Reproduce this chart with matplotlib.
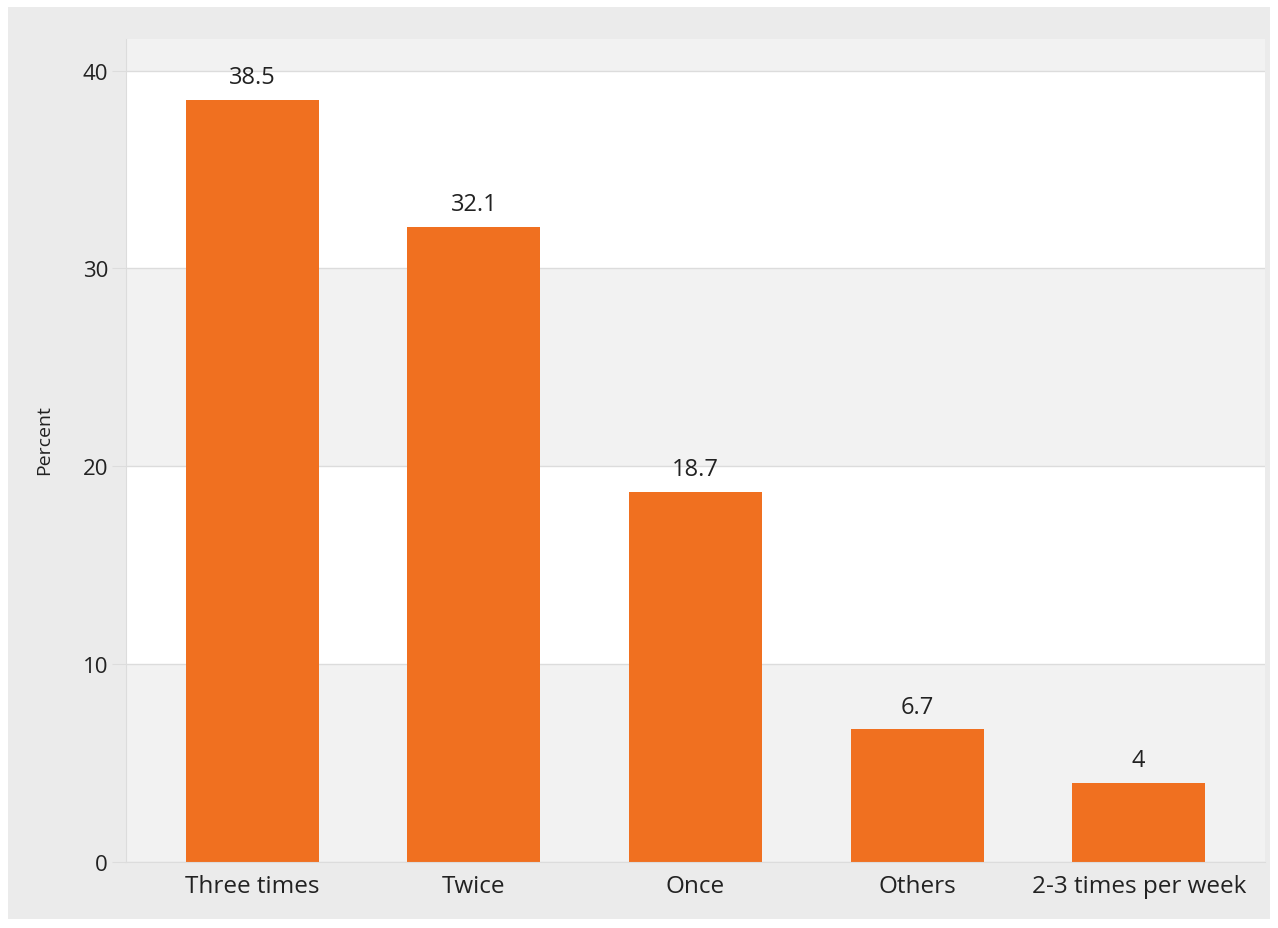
import matplotlib
matplotlib.use("Agg")
import matplotlib.pyplot as plt
from matplotlib.patches import Rectangle

categories = ["Three times", "Twice", "Once", "Others", "2-3 times per week"]
percent = [38.5, 32.1, 18.7, 6.7, 4]
value_labels = ["38.5", "32.1", "18.7", "6.7", "4"]
yticks = [0, 10, 20, 30, 40]

plt.rcParams['font.family'] = ['Open Sans', 'DejaVu Sans']
TXT = '#222222'

fig = plt.figure(figsize=(12.78, 9.29), dpi=100)
fig.patch.set_facecolor('white')
# outer gray box
fig.patches.append(Rectangle((8 / 1278, 9 / 929), 1262 / 1278, 912 / 929,
                             transform=fig.transFigure, facecolor='#ebebeb',
                             edgecolor='none', zorder=-10))

ax = fig.add_axes([126 / 1278, 66 / 929, 1139 / 1278, 823 / 929])
ax.set_zorder(1)
ax.set_facecolor('#f2f2f2')
ax.set_xlim(-0.57, 4.57)
ax.set_ylim(0, 41.6)

# alternating bands
for lo in (10, 30):
    ax.axhspan(lo, lo + 10, color='white', zorder=0, lw=0)
for y in yticks:
    ax.axhline(y, color='#dcdcdc', lw=1, zorder=1)

x = range(len(categories))
ax.bar(x, percent, width=0.6, color='#f07020', zorder=2)
for xi, v, lab in zip(x, percent, value_labels):
    ax.text(xi, v + 0.55, lab, ha='center', va='bottom', fontsize=17, color=TXT)

ax.set_xticks(list(x))
ax.set_xticklabels(categories, fontsize=17.5, color=TXT)
ax.set_yticks(yticks)
ax.set_yticklabels([str(t) for t in yticks], fontsize=16, color=TXT)
ax.tick_params(axis='x', length=0, pad=9)
ax.tick_params(axis='y', length=10, color='#dcdcdc', pad=3)
ax.set_ylabel("Percent", fontsize=14, color=TXT)
ax.yaxis.set_label_coords(-0.064, 0.514)

for s in ('top', 'right'):
    ax.spines[s].set_visible(False)
ax.spines['left'].set_color('#dcdcdc')
ax.spines['bottom'].set_color('#dcdcdc')

fig.savefig("out.png", dpi=100, facecolor=fig.get_facecolor())
